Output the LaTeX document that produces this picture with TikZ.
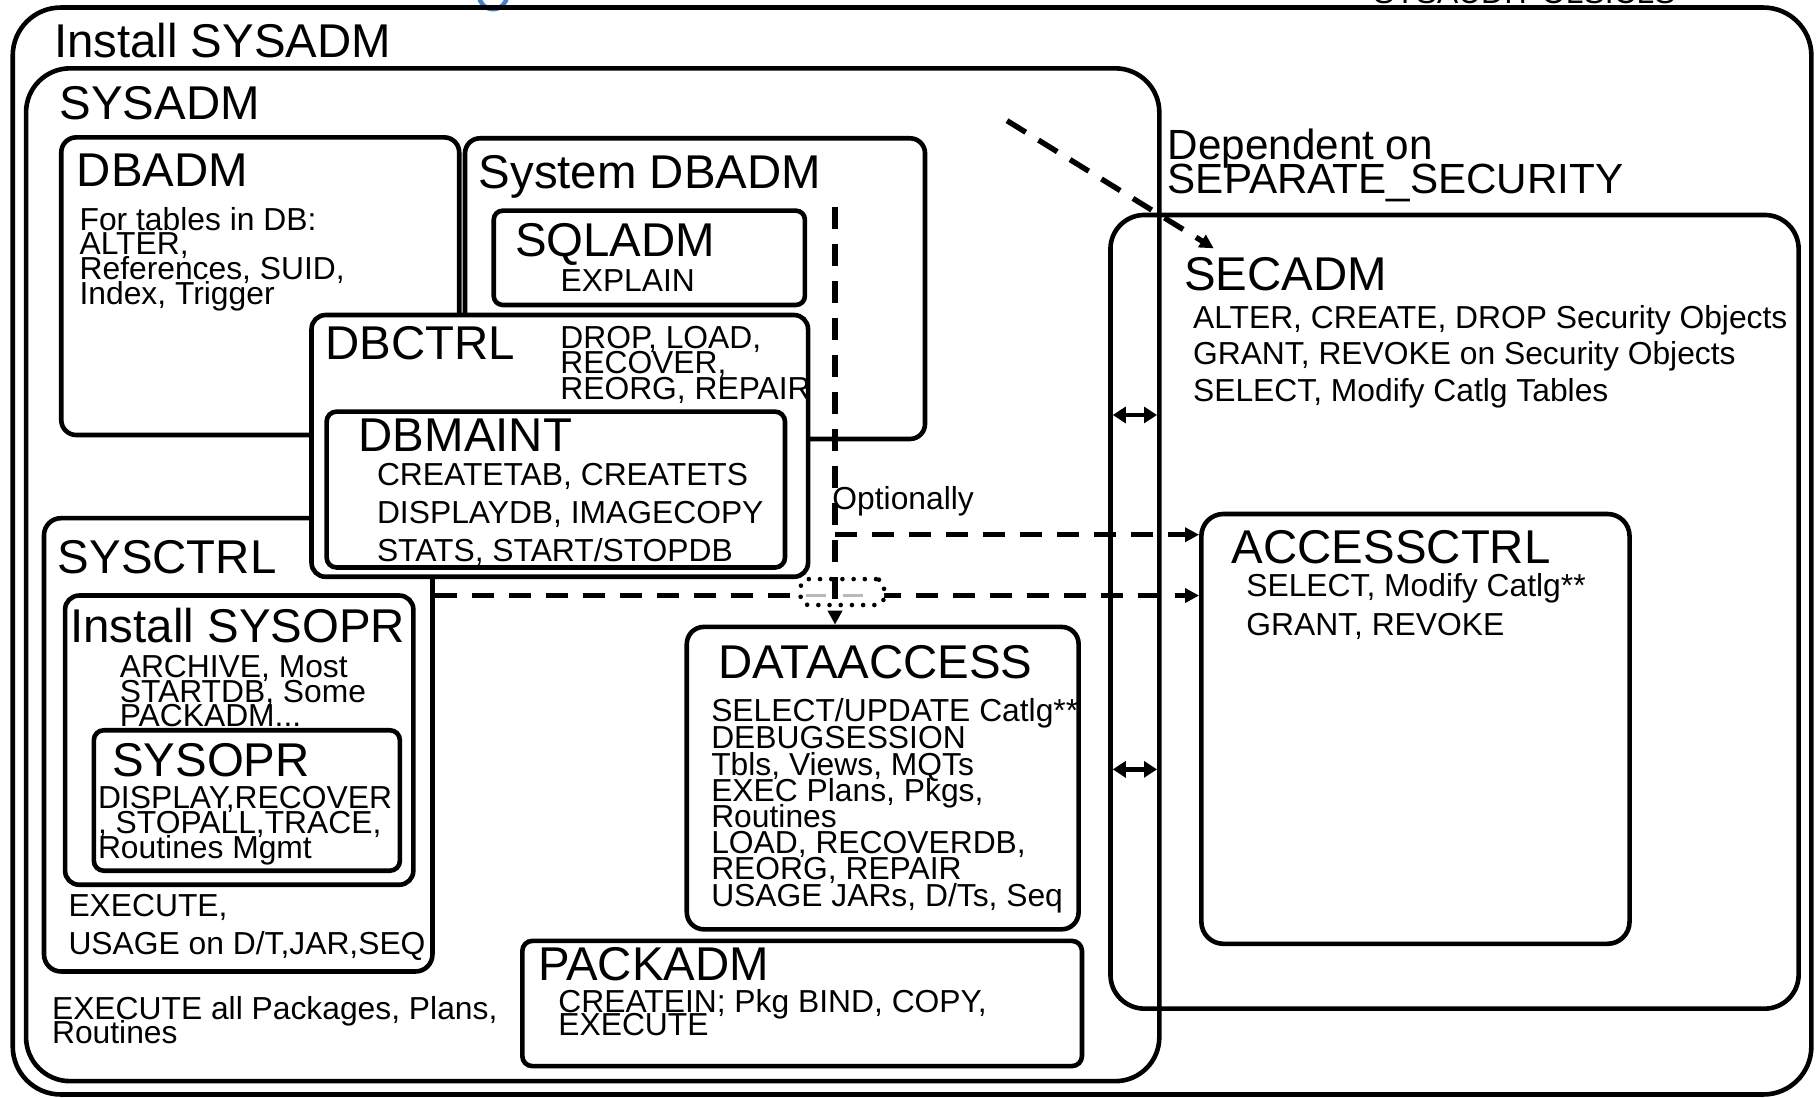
\documentclass[tikz,border=0pt]{standalone}
\usepackage{fontspec}
\setmainfont{Liberation Sans}
\usetikzlibrary{arrows.meta,fit,calc}
\definecolor{ringblue}{RGB}{74,128,200}
\begin{document}
\begin{tikzpicture}[x=0.5791pt,y=-0.5791pt,
  box/.style={draw, line width=2.3pt, inner sep=0pt, outer sep=1.15pt},
  ttl/.style={anchor=base west, inner sep=0pt, font=\fontsize{23.7pt}{28pt}\selectfont},
  bdy/.style={anchor=base west, inner sep=0pt, font=\fontsize{15.9pt}{19pt}\selectfont},
  dep/.style={anchor=base west, inner sep=0pt, font=\fontsize{21.1pt}{25pt}\selectfont},
  dsh/.style={line width=2.7pt, dash pattern=on 11pt off 7.5pt},
  tip/.style={-{Triangle[length=7pt,width=7pt]}},
  dbl/.style={line width=2.2pt, {Triangle[length=6.5pt,width=8pt]}-{Triangle[length=6.5pt,width=8pt]}},
  dots/.style={draw, line width=2.3pt, dash pattern=on 0pt off 5.6pt, line cap=round, rounded corners=4pt, inner sep=0pt, fill=white}
]
\useasboundingbox (0,0) rectangle (1568,948);
\fill[white] (0,0) rectangle (1568,948);

% cut-off items at the top edge
\draw[ringblue, line width=2.2pt] (425.7,-4) circle (12);
\node[bdy] (topcut) at (1185.5,3) {SYSAUDIT OLSICLS};

% big boxes
\node[box, rounded corners=24pt, fit={(11,6.5) (1564,945)}] (instsysadm) {};
\node[box, rounded corners=22pt, fit={(22.5,59) (1001,933.5)}] (sysadm) {};

\node[box, rounded corners=7.5pt, fit={(52.9,118.6) (396.5,375.6)}] (dbadm) {};
\node[box, rounded corners=7.5pt, fit={(401.5,119.4) (798.7,379)}] (sysdbadm) {};
\node[box, rounded corners=4.5pt, fit={(426.3,181.9) (695,263.3)}] (sqladm) {};

\node[box, rounded corners=8.5pt, fit={(38,447.4) (373.4,838.8)}] (sysctrl) {};
\node[box, rounded corners=7pt, fit={(56.2,514.2) (356.9,763.9)}] (instsysopr) {};
\node[box, rounded corners=5pt, fit={(81,630.5) (345.3,751.8)}] (sysopr) {};

\node[box, fill=white, rounded corners=7pt, fit={(269,272) (697.7,498)}] (dbctrl) {};
\node[box, rounded corners=5pt, fit={(282,355.4) (677.8,490)}] (dbmaint) {};

\node[box, rounded corners=8.5pt, fit={(593,541.3) (931.3,802.4)}] (dataaccess) {};
\node[box, rounded corners=5pt, fit={(451,812.4) (934.2,920.5)}] (packadm) {};

\node[box, rounded corners=17pt, fit={(958.8,185.6) (1553,870.9)}] (secadm) {};
\node[box, rounded corners=11pt, fit={(1037.3,443.8) (1407,814.9)}] (accessctrl) {};

% titles
\node[ttl] (t-instsysadm) at (46.3,49.5) {Install SYSADM};
\node[ttl] (t-sysadm) at (51.2,103) {SYSADM};
\node[ttl] (t-dbadm) at (66.1,161) {DBADM};
\node[ttl] (t-sysdbadm) at (413,162.6) {System DBADM};
\node[ttl] (t-sqladm) at (444.4,221.6) {SQLADM};
\node[ttl] (t-dbctrl) at (280.6,310.8) {DBCTRL};
\node[ttl] (t-dbmaint) at (309.4,390) {DBMAINT};
\node[ttl] (t-sysctrl) at (49.6,495.6) {SYSCTRL};
\node[ttl] (t-instsysopr) at (60.5,554.4) {Install SYSOPR};
\node[ttl] (t-sysopr) at (96.5,670.4) {SYSOPR};
\node[ttl] (t-dataaccess) at (619.8,585.8) {DATAACCESS};
\node[ttl] (t-packadm) at (464.3,846.5) {PACKADM};
\node[ttl] (t-secadm) at (1022,250.4) {SECADM};
\node[ttl] (t-accessctrl) at (1063.3,486.6) {ACCESSCTRL};

\node[dep] (dep1) at (1008,138) {Dependent on};
\node[dep] (dep2) at (1008,167) {SEPARATE\_SECURITY};

% body texts
\node[bdy] (dbadm1) at (68.4,198.6) {For tables in DB:};
\node[bdy] (dbadm2) at (68.4,219.8) {ALTER,};
\node[bdy] (dbadm3) at (68.4,241.2) {References, SUID,};
\node[bdy] (dbadm4) at (68.4,262.8) {Index, Trigger};

\node[bdy] (sqladm1) at (483.7,251.8) {EXPLAIN};

\node[bdy] (dbctrl1) at (483.5,300.8) {DROP, LOAD,};
\node[bdy] (dbctrl2) at (483.5,322.8) {RECOVER,};
\node[bdy] (dbctrl3) at (483.5,344.8) {REORG, REPAIR};

\node[bdy] (dbmaint1) at (325.2,418.8) {CREATETAB, CREATETS};
\node[bdy] (dbmaint2) at (325.2,451.9) {DISPLAYDB, IMAGECOPY};
\node[bdy] (dbmaint3) at (325.2,484.5) {STATS, START/STOPDB};

\node[bdy] (iso1) at (103.1,584.8) {ARCHIVE, Most};
\node[bdy] (iso2) at (103.1,606.2) {STARTDB, Some};
\node[bdy] (iso3) at (103.1,627.6) {PACKADM...};

\node[bdy] (sop1) at (84.3,698.2) {DISPLAY,RECOVER};
\node[bdy] (sop2) at (84.3,719.7) {, STOPALL,TRACE,};
\node[bdy] (sop3) at (84.3,741.1) {Routines Mgmt};

\node[bdy] (sct1) at (58.8,791) {EXECUTE,};
\node[bdy] (sct2) at (58.8,823.8) {USAGE on D/T,JAR,SEQ};

\node[bdy] (sad1) at (44.6,880.2) {EXECUTE all Packages, Plans,};
\node[bdy] (sad2) at (44.6,901.2) {Routines};

\node[bdy] (da1) at (613.8,623.3) {SELECT/UPDATE Catlg**};
\node[bdy] (da2) at (613.8,646.1) {DEBUGSESSION};
\node[bdy] (da3) at (613.8,669.2) {Tbls, Views, MQTs};
\node[bdy] (da4) at (613.8,691.8) {EXEC Plans, Pkgs,};
\node[bdy] (da5) at (613.8,714.2) {Routines};
\node[bdy] (da6) at (613.8,737.3) {LOAD, RECOVERDB,};
\node[bdy] (da7) at (613.8,759.8) {REORG, REPAIR};
\node[bdy] (da8) at (613.8,782.8) {USAGE JARs, D/Ts, Seq};

\node[bdy] (pa1) at (481.8,873.8) {CREATEIN; Pkg BIND, COPY,};
\node[bdy] (pa2) at (481.8,894.2) {EXECUTE};

\node[bdy] (sec1) at (1029.8,283.5) {ALTER, CREATE, DROP Security Objects};
\node[bdy] (sec2) at (1029.8,315.1) {GRANT, REVOKE on Security Objects};
\node[bdy] (sec3) at (1029.8,346.8) {SELECT, Modify Catlg Tables};

\node[bdy] (ac1) at (1075.8,515.2) {SELECT, Modify Catlg**};
\node[bdy] (ac2) at (1075.8,549.1) {GRANT, REVOKE};

\node[bdy] (opt) at (718.4,440.3) {Optionally};

% connectors
\coordinate (vtop) at (721,179);
\coordinate (vmid) at (721,461.7);
\coordinate (hlow) at (0,514.2);
\coordinate (r1) at (0,358.3);
\coordinate (r2) at (0,664.3);
\coordinate (dgs) at (869.5,104.2);
\coordinate (dge) at (1048,214.4);

\draw[dsh, tip] (sysctrl.east |- hlow) -- (accessctrl.west |- hlow);
\node[dots, fit={(691.3,500) (763.3,522.4)}] (bridge) {};
\draw[gray!55, line width=1.6pt] (695.9,513.9) -- (713.3,513.9);
\draw[gray!55, line width=1.6pt] (727.6,513.9) -- (745.4,513.9);

\draw[dsh, tip] (vtop) -- (dataaccess.north -| vtop);
\draw[dsh, tip] (vmid) -- (accessctrl.west |- vmid);
\draw[dsh, tip] (dgs) -- (dge);

\draw[dbl] ($(secadm.west |- r1)+(4,0)$) -- ($(sysadm.east |- r1)-(4,0)$);
\draw[dbl] ($(secadm.west |- r2)+(4,0)$) -- ($(sysadm.east |- r2)-(4,0)$);
\end{tikzpicture}
\end{document}
